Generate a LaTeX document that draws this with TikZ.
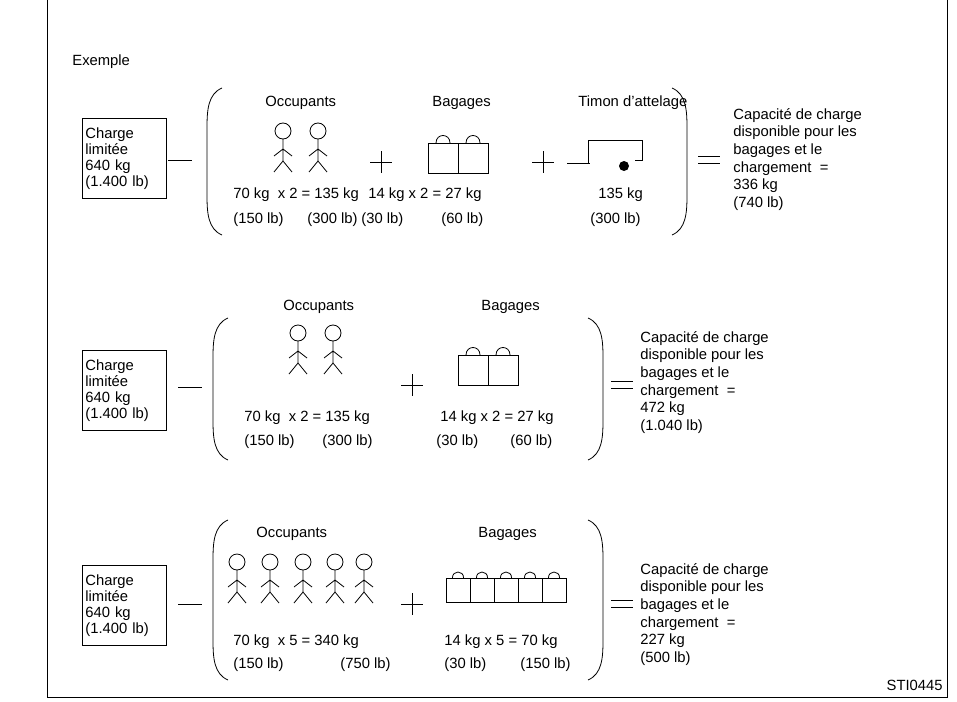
\documentclass[tikz,border=0pt]{standalone}
\usepackage{fontspec}
\setmainfont{Liberation Sans}
\usetikzlibrary{positioning}

\begin{document}
\begin{tikzpicture}[
    x=0.5pt, y=-0.5pt,
    txt/.style={inner sep=0pt, anchor=base west, font=\fontsize{7.4}{8}\selectfont},
    box/.style={draw, align=left, anchor=north west, inner sep=1.5pt,
                text width=39pt, minimum height=40pt, font=\fontsize{7.4}{8}\selectfont},
    result/.style={align=left, anchor=north west, inner sep=0pt,
                font=\fontsize{7.4}{8.8}\selectfont},
    person/.pic={
        \draw (0,0) circle[radius=8];
        \draw (0,8) -- (0,30) (-9,25) -- (0,18) -- (9,25)
              (-9,41) -- (0,30) -- (9,41);
    },
    bag/.pic={
        \draw (0,0) rectangle (30,30);
        \draw (8,0) .. controls (8,-10) and (22,-10) .. (22,0);
    },
    plus/.pic={\draw (-11,0) -- (11,0) (0,-11) -- (0,11);},
    minus/.pic={\draw (-12,0) -- (12,0);},
    equal/.pic={\draw (-11,-3.5) -- (11,-3.5) (-11,3.5) -- (11,3.5);}
]
\useasboundingbox (0,0) rectangle (957,701);
\draw (47,-5) -- (47,697) -- (947,697) -- (947,-5);

\node[txt] (title) at (72,66) {Exemple};
\node[txt, anchor=base east] (ref) at (943,690) {STI0445};

% Row 1: occupants, baggage and tow bar
\node[box] (lim1) at (82,118) {Charge\\limitée\\640 kg\\(1.400 lb)};
\pic at (180,160) {minus};
\draw (222,88) .. controls (208,94) and (207,110) .. (207,128) -- (207,195)
      .. controls (207,213) and (208,229) .. (222,235);
\node[txt] (occ1) at (265,106) {Occupants};
\pic at (283,131) {person};
\pic at (318,131) {person};
\node[txt] (bag1) at (432,106) {Bagages};
\pic at (428,143) {bag};
\pic at (458,143) {bag};
\node[txt] (tim1) at (578,106) {Timon d'attelage};
\draw (567,163) -- (590,163) (588,163) -- (588,140) -- (642,140) -- (642,160) -- (635,160);
\fill (624,166) circle[radius=5];
\pic at (381,162) {plus};
\pic at (543,162) {plus};
\node[txt] (calc1a) at (233,198) {70 kg\ \ x 2 = 135 kg};
\node[txt] (calc1b) at (368,198) {14 kg x 2 = 27 kg};
\node[txt] (calc1c) at (598,198) {135 kg};
\node[txt] (lb1a) at (233,223) {(150 lb)};
\node[txt] (lb1b) at (307,223) {(300 lb)};
\node[txt] (lb1c) at (361,223) {(30 lb)};
\node[txt] (lb1d) at (441,223) {(60 lb)};
\node[txt] (lb1e) at (590,223) {(300 lb)};
\draw (672,88) .. controls (686,94) and (687,110) .. (687,128) -- (687,195)
      .. controls (687,213) and (686,229) .. (672,235);
\pic at (709,160) {equal};
\node[result] (res1) at (733,108) {Capacité de charge\\disponible pour les\\bagages et le\\chargement\ \ =\\336 kg\\(740 lb)};

% Row 2: occupants and baggage
\node[box] (lim2) at (82,350) {Charge\\limitée\\640 kg\\(1.400 lb)};
\pic at (190,387) {minus};
\draw (228,318) .. controls (214,324) and (213,340) .. (213,358) -- (213,420)
      .. controls (213,438) and (214,454) .. (228,460);
\node[txt] (occ2) at (283,310) {Occupants};
\pic at (298,333) {person};
\pic at (333,333) {person};
\node[txt] (bag2) at (481,310) {Bagages};
\pic at (458,355) {bag};
\pic at (488,355) {bag};
\pic at (412,385) {plus};
\node[txt] (calc2a) at (244,421) {70 kg\ \ x 2 = 135 kg};
\node[txt] (calc2b) at (440,421) {14 kg x 2 = 27 kg};
\node[txt] (lb2a) at (244,445) {(150 lb)};
\node[txt] (lb2b) at (322,445) {(300 lb)};
\node[txt] (lb2c) at (436,445) {(30 lb)};
\node[txt] (lb2d) at (510,445) {(60 lb)};
\draw (588,318) .. controls (602,324) and (603,340) .. (603,358) -- (603,420)
      .. controls (603,438) and (602,454) .. (588,460);
\pic at (622,385) {equal};
\node[result] (res2) at (640,331) {Capacité de charge\\disponible pour les\\bagages et le\\chargement\ \ =\\472 kg\\(1.040 lb)};

% Row 3: five occupants and baggage
\node[box] (lim3) at (82,565) {Charge\\limitée\\640 kg\\(1.400 lb)};
\pic at (190,604) {minus};
\draw (228,520) .. controls (214,526) and (213,542) .. (213,560) -- (213,640)
      .. controls (213,658) and (214,674) .. (228,680);
\node[txt] (occ3) at (256,537) {Occupants};
\foreach \px in {237,270,303,335,364}
    \pic at (\px,562) {person};
\node[txt] (bag3) at (478,537) {Bagages};
\foreach \bx in {446,470,494,518,542}
    \pic[scale=0.8] at (\bx,578) {bag};
\pic at (412,604) {plus};
\node[txt] (calc3a) at (233,645) {70 kg\ \ x 5 = 340 kg};
\node[txt] (calc3b) at (444,645) {14 kg x 5 = 70 kg};
\node[txt] (lb3a) at (233,668) {(150 lb)};
\node[txt] (lb3b) at (340,668) {(750 lb)};
\node[txt] (lb3c) at (444,668) {(30 lb)};
\node[txt] (lb3d) at (520,668) {(150 lb)};
\draw (588,520) .. controls (602,526) and (603,542) .. (603,560) -- (603,640)
      .. controls (603,658) and (602,674) .. (588,680);
\pic at (622,604) {equal};
\node[result] (res3) at (640,563) {Capacité de charge\\disponible pour les\\bagages et le\\chargement\ \ =\\227 kg\\(500 lb)};
\end{tikzpicture}
\end{document}
